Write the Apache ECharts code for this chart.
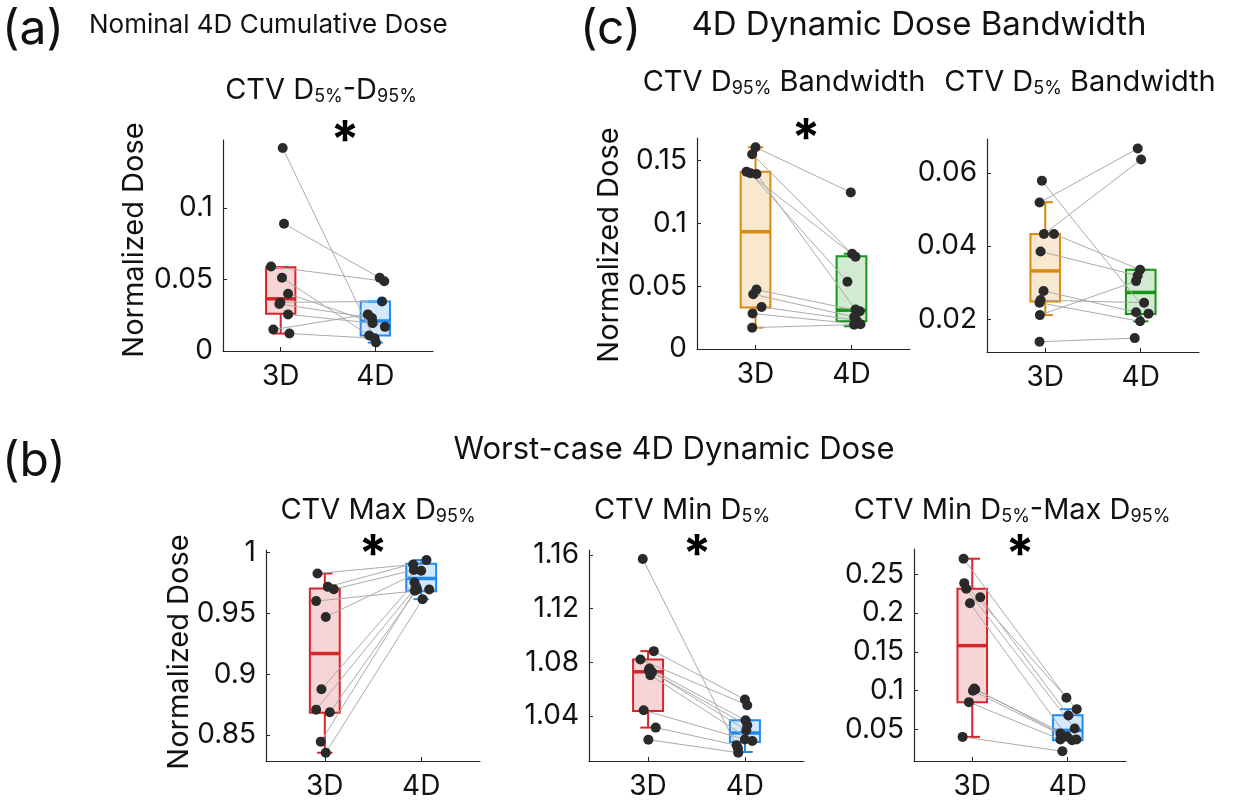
<!DOCTYPE html>
<html><head><meta charset="utf-8">
<script src="https://cdn.jsdelivr.net/npm/echarts@6/dist/echarts.min.js"></script>
<style>html,body{margin:0;padding:0;background:#fff}#c{width:1243px;height:806px}</style>
</head><body><div id="c"></div>
<script>
// ---------- data ----------
const groups = ['3D', '4D'];

// (a) Nominal 4D cumulative dose: CTV D5%-D95%  (index i of 3D pairs with index i of 4D)
const a3D    = [0.142, 0.089, 0.0591, 0.0512, 0.0401, 0.0340, 0.0329, 0.0256, 0.0150, 0.0122];
const a4D    = [0.0059, 0.0512, 0.0488, 0.0108, 0.0169, 0.0347, 0.0230, 0.0195, 0.0256, 0.0089];
const a3Djit = [0.021, 0.035, -0.102, 0.014, 0.078, -0.004, -0.014, 0.078, -0.078, 0.092];
const a4Djit = [0.007, 0.046, 0.095, -0.064, 0.102, 0.071, -0.035, -0.028, -0.078, -0.007];
const aBox3D = [0.0122, 0.0260, 0.0365, 0.0585, 0.0585];
const aBox4D = [0.0059, 0.0108, 0.0210, 0.0346, 0.0346];
const aTicks = [0, 0.05, 0.1];

// (c) left: CTV D95% bandwidth
const c1_3D    = [0.1606, 0.1551, 0.1412, 0.1399, 0.1394, 0.0473, 0.0436, 0.0335, 0.0282, 0.0170];
const c1_4D    = [0.1247, 0.0758, 0.0734, 0.0535, 0.0314, 0.0301, 0.0255, 0.0229, 0.0197, 0.0194];
const c1_3Djit = [0.000, -0.035, -0.094, -0.052, 0.010, 0.010, -0.024, 0.063, -0.031, -0.035];
const c1_4Djit = [-0.007, 0.007, 0.042, -0.042, 0.042, 0.087, 0.028, 0.052, 0.094, 0.028];
const c1Box3D  = [0.0170, 0.0330, 0.0934, 0.1412, 0.1606];
const c1Box4D  = [0.0181, 0.0221, 0.0309, 0.0739, 0.0758];
const c1Ticks  = [0, 0.05, 0.1, 0.15];

// (c) right: CTV D5% bandwidth
const c2_3D    = [0.0579, 0.0519, 0.0433, 0.0433, 0.0385, 0.0277, 0.0252, 0.0245, 0.0211, 0.0138];
const c2_4D    = [0.0215, 0.0667, 0.0637, 0.0335, 0.0319, 0.0219, 0.0245, 0.0194, 0.0304, 0.0148];
const c2_3Djit = [-0.035, -0.060, -0.014, 0.091, -0.049, -0.018, -0.049, -0.060, -0.056, -0.060];
const c2_4Djit = [0.081, -0.032, 0.004, -0.007, -0.032, -0.049, 0.035, -0.007, -0.049, -0.063];
const c2Box3D  = [0.0211, 0.0248, 0.0332, 0.0433, 0.0520];
const c2Box4D  = [0.0194, 0.0214, 0.0273, 0.0335, 0.0335];
const c2Ticks  = [0.02, 0.04, 0.06];

// (b) left: CTV Max D95%
const b1_3D    = [0.9827, 0.9717, 0.9698, 0.9600, 0.9470, 0.8875, 0.8708, 0.8686, 0.8445, 0.8354];
const b1_4D    = [0.9901, 0.9937, 0.9855, 0.9695, 0.9849, 0.9753, 0.9717, 0.9695, 0.9685, 0.9616];
const b1_3Djit = [-0.076, 0.031, 0.093, -0.090, 0.010, -0.035, -0.090, 0.052, -0.042, 0.010];
const b1_4Djit = [-0.083, 0.055, -0.076, 0.083, 0.000, -0.069, -0.052, -0.042, -0.066, 0.014];
const b1Box3D  = [0.8354, 0.8683, 0.9169, 0.9704, 0.9827];
const b1Box4D  = [0.9616, 0.9682, 0.9786, 0.9907, 0.9937];
const b1Ticks  = [0.85, 0.9, 0.95, 1];

// (b) middle: CTV Min D5%
const b2_3D    = [1.1570, 1.0883, 1.0821, 1.0753, 1.0740, 1.0728, 1.0704, 1.0442, 1.0313, 1.0223];
const b2_4D    = [1.0156, 1.0522, 1.0480, 1.0367, 1.0330, 1.0293, 1.0213, 1.0225, 1.0181, 1.0126];
const b2_3Djit = [-0.055, 0.059, -0.079, 0.014, 0.007, 0.041, 0.024, -0.045, 0.079, 0.003];
const b2_4Djit = [-0.072, 0.000, 0.024, 0.007, 0.024, 0.014, 0.076, 0.000, -0.086, -0.069];
const b2Box3D  = [1.0313, 1.0437, 1.0729, 1.0820, 1.0883];
const b2Box4D  = [1.0131, 1.0206, 1.0273, 1.0367, 1.0367];
const b2Ticks  = [1.04, 1.08, 1.12, 1.16];

// (b) right: CTV Min D5%-Max D95%
const b3_3D    = [0.2698, 0.2384, 0.2311, 0.2203, 0.2126, 0.1029, 0.1015, 0.0999, 0.0853, 0.0406];
const b3_4D    = [0.0909, 0.0763, 0.0513, 0.0681, 0.0410, 0.0449, 0.0372, 0.0363, 0.0372, 0.0221];
const b3_3Djit = [-0.091, -0.084, -0.063, 0.084, -0.024, 0.021, 0.031, 0.007, -0.035, -0.101];
const b3_4Djit = [-0.014, 0.094, 0.073, 0.007, -0.007, -0.077, 0.091, 0.045, -0.077, -0.056];
const b3Box3D  = [0.0406, 0.0853, 0.1580, 0.2311, 0.2698];
const b3Box4D  = [0.0363, 0.0363, 0.0490, 0.0685, 0.0763];
const b3Ticks  = [0.05, 0.1, 0.15, 0.2, 0.25];

// ---------- styling / layout ----------
const FONT = 'Inter';
const TXT = '#111';
const AX = '#262626';
const RED = ['#D7262B', 'rgba(215,38,43,0.2)'];
const BLUE = ['#1F8BF0', 'rgba(31,139,240,0.2)'];
const ORANGE = ['#D98A0E', 'rgba(217,138,14,0.2)'];
const GREEN = ['#17941A', 'rgba(23,148,26,0.2)'];
const TICK_FS = 28;

const panels = [
  { d3: a3D, d4: a4D, j3: a3Djit, j4: a4Djit, bx3: aBox3D, bx4: aBox4D, ticks: aTicks,
    ymin: 0, ymax: 0.1476, grid: { left: 223, top: 140, width: 210, height: 211 }, col: [RED, BLUE] },
  { d3: c1_3D, d4: c1_4D, j3: c1_3Djit, j4: c1_4Djit, bx3: c1Box3D, bx4: c1Box4D, ticks: c1Ticks,
    ymin: 0, ymax: 0.168, grid: { left: 697, top: 138, width: 213, height: 211 }, col: [ORANGE, GREEN] },
  { d3: c2_3D, d4: c2_4D, j3: c2_3Djit, j4: c2_4Djit, bx3: c2Box3D, bx4: c2Box4D, ticks: c2Ticks,
    ymin: 0.011, ymax: 0.0693, grid: { left: 987, top: 139, width: 212, height: 213 }, col: [ORANGE, GREEN] },
  { d3: b1_3D, d4: b1_4D, j3: b1_3Djit, j4: b1_4Djit, bx3: b1Box3D, bx4: b1Box4D, ticks: b1Ticks,
    ymin: 0.8286, ymax: 1.002, grid: { left: 266, top: 550, width: 214, height: 211 }, col: [RED, BLUE] },
  { d3: b2_3D, d4: b2_4D, j3: b2_3Djit, j4: b2_4Djit, bx3: b2Box3D, bx4: b2Box4D, ticks: b2Ticks,
    ymin: 1.0064, ymax: 1.1637, grid: { left: 589, top: 550, width: 215, height: 211 }, col: [RED, BLUE] },
  { d3: b3_3D, d4: b3_4D, j3: b3_3Djit, j4: b3_4Djit, bx3: b3Box3D, bx4: b3Box4D, ticks: b3Ticks,
    ymin: 0.0096, ymax: 0.2823, grid: { left: 914, top: 549, width: 212, height: 212 }, col: [RED, BLUE] }
];

const grids = [], xAxes = [], yAxes = [], series = [];
panels.forEach((p, i) => {
  grids.push(Object.assign({ containLabel: false }, p.grid));
  xAxes.push({
    type: 'value', gridIndex: i, min: 0.39, max: 2.61,
    axisLine: { show: true, lineStyle: { color: AX, width: 1.2 } },
    axisTick: { show: true, inside: true, length: 4, customValues: [1, 2], lineStyle: { color: AX } },
    axisLabel: { show: true, customValues: [1, 2], formatter: v => groups[Math.round(v) - 1],
      color: TXT, fontSize: TICK_FS, fontFamily: FONT, margin: 12 },
    splitLine: { show: false }
  });
  yAxes.push({
    type: 'value', gridIndex: i, min: p.ymin, max: p.ymax,
    axisLine: { show: true, lineStyle: { color: AX, width: 1.2 } },
    axisTick: { show: true, inside: true, length: 4, customValues: p.ticks, lineStyle: { color: AX } },
    axisLabel: { show: true, customValues: p.ticks, color: TXT, fontSize: TICK_FS, fontFamily: FONT, margin: 10,
      formatter: v => String(+v.toFixed(4)) },
    splitLine: { show: false }
  });
  const cols = p.col;
  // boxes
  series.push({
    type: 'custom', xAxisIndex: i, yAxisIndex: i, silent: true, z: 1,
    dimensions: ['x', 'lo', 'q1', 'med', 'q3', 'hi'],
    encode: { x: 0, y: [1, 2, 3, 4, 5] },
    data: [[1].concat(p.bx3), [2].concat(p.bx4)],
    renderItem: function (params, api) {
      const c = cols[params.dataIndex];
      const x = api.value(0), lo = api.value(1), q1 = api.value(2), md = api.value(3), q3 = api.value(4), hi = api.value(5);
      const hw = 0.155, cw = 0.08;
      const tl = api.coord([x - hw, q3]), br = api.coord([x + hw, q1]);
      const mL = api.coord([x - hw, md]), mR = api.coord([x + hw, md]);
      const cx = api.coord([x, hi])[0];
      const yHi = api.coord([x, hi])[1], yLo = api.coord([x, lo])[1];
      const cL = api.coord([x - cw, hi])[0], cR = api.coord([x + cw, hi])[0];
      const st = { stroke: c[0], lineWidth: 2 };
      return { type: 'group', children: [
        { type: 'rect', shape: { x: tl[0], y: tl[1], width: br[0] - tl[0], height: br[1] - tl[1] }, style: { fill: c[1], stroke: c[0], lineWidth: 2 } },
        { type: 'line', shape: { x1: cx, y1: tl[1], x2: cx, y2: yHi }, style: st },
        { type: 'line', shape: { x1: cx, y1: br[1], x2: cx, y2: yLo }, style: st },
        { type: 'line', shape: { x1: cL, y1: yHi, x2: cR, y2: yHi }, style: st },
        { type: 'line', shape: { x1: cL, y1: yLo, x2: cR, y2: yLo }, style: st },
        { type: 'line', shape: { x1: mL[0], y1: mL[1], x2: mR[0], y2: mR[1] }, style: { stroke: c[0], lineWidth: 3.5 } }
      ] };
    }
  });
  // pair lines
  series.push({
    type: 'custom', xAxisIndex: i, yAxisIndex: i, silent: true, z: 2,
    dimensions: ['x1', 'y1', 'x2', 'y2'],
    encode: { x: [0, 2], y: [1, 3] },
    data: p.d3.map((v, k) => [1 + p.j3[k], v, 2 + p.j4[k], p.d4[k]]),
    renderItem: function (params, api) {
      const s = api.coord([api.value(0), api.value(1)]);
      const e = api.coord([api.value(2), api.value(3)]);
      return { type: 'line', shape: { x1: s[0], y1: s[1], x2: e[0], y2: e[1] }, style: { stroke: '#ababab', lineWidth: 1 } };
    }
  });
  // points
  series.push({
    type: 'scatter', xAxisIndex: i, yAxisIndex: i, z: 3, silent: true, symbolSize: 10,
    itemStyle: { color: '#2a2a2a', opacity: 1 },
    data: p.d3.map((v, k) => [1 + p.j3[k], v]).concat(p.d4.map((v, k) => [2 + p.j4[k], v]))
  });
});

function txt(x, y, text, size, align) {
  return { type: 'text', x: x, y: y, silent: true, style: { text: text, fill: TXT, font: size + 'px ' + FONT, align: align || 'center', verticalAlign: 'middle' } };
}
const richSub = {
  n: { fontSize: 29, fontFamily: FONT, color: TXT, lineHeight: 34 },
  s: { fontSize: 18, fontFamily: FONT, color: TXT, lineHeight: 34, padding: [14, 0, 0, 0] }
};
function rtxt(x, y, text) {
  return { type: 'text', x: x, y: y, silent: true, style: { text: text, rich: richSub, align: 'center', verticalAlign: 'middle', fill: TXT } };
}
function star(x, y) {
  return { type: 'text', x: x, y: y, silent: true, style: { text: '*', fill: '#000', font: 'bold 52px ' + FONT, align: 'center', verticalAlign: 'middle' } };
}
function yname(x, y) {
  return { type: 'text', x: x, y: y, rotation: Math.PI / 2, silent: true, style: { text: 'Normalized Dose', fill: TXT, font: '29px ' + FONT, align: 'center', verticalAlign: 'middle' } };
}

const graphics = [
  txt(2, 30, '(a)', 48, 'left'),
  txt(89, 25, 'Nominal 4D Cumulative Dose', 26, 'left'),
  rtxt(321, 90, '{n|CTV D}{s|5%}{n|-D}{s|95%}'),
  star(345, 142),
  txt(580, 30, '(c)', 48, 'left'),
  txt(919, 25, '4D Dynamic Dose Bandwidth', 33, 'center'),
  rtxt(784, 82, '{n|CTV D}{s|95%}{n| Bandwidth}'),
  rtxt(1080, 82, '{n|CTV D}{s|5%}{n| Bandwidth}'),
  star(806, 140),
  txt(2, 462, '(b)', 48, 'left'),
  txt(674, 450, 'Worst-case 4D Dynamic Dose', 31, 'center'),
  rtxt(378, 510, '{n|CTV Max D}{s|95%}'),
  rtxt(682, 510, '{n|CTV Min D}{s|5%}'),
  rtxt(1012, 510, '{n|CTV Min D}{s|5%}{n|-Max D}{s|95%}'),
  star(373, 556), star(697, 556), star(1020, 556),
  yname(134, 240), yname(609, 245), yname(179, 652)
];

const chart = echarts.init(document.getElementById('c'));
chart.setOption({
  animation: false,
  backgroundColor: '#fff',
  grid: grids, xAxis: xAxes, yAxis: yAxes, series: series,
  graphic: { elements: graphics }
});
</script></body></html>
